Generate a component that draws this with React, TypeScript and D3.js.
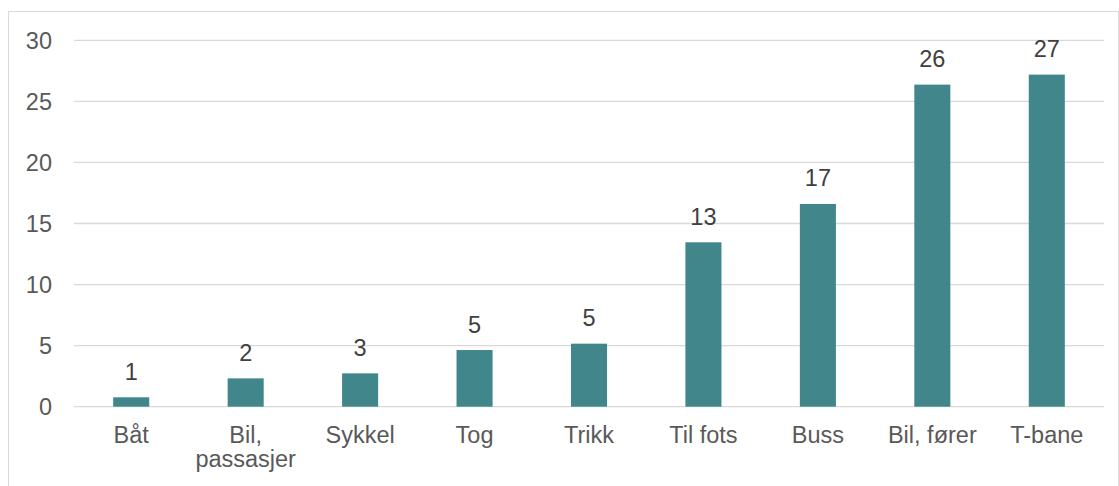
import React from "react";
import * as d3 from "d3";

const categories = ["Båt", "Bil, passasjer", "Sykkel", "Tog", "Trikk", "Til fots", "Buss", "Bil, fører", "T-bane"];
const values = [0.77, 2.32, 2.73, 4.64, 5.16, 13.46, 16.6, 26.37, 27.19];
const yTicks = [0, 5, 10, 15, 20, 25, 30];

const W = 1119, H = 486;
const left = 74, right = 1104, top = 40.3, bottom = 406.7;

function splitLabel(s: string): string[] {
  if (s === "Bil, passasjer") return ["Bil,", "passasjer"];
  return [s];
}

export default function App() {
  const x = d3.scaleBand<string>().domain(categories).range([left, right]).paddingInner(0.685).paddingOuter(0.3425);
  const y = d3.scaleLinear().domain([0, 30]).range([bottom, top]);
  const font = "'Liberation Sans', Arial, sans-serif";
  const fs = 23.5;
  return (
    <svg width={W} height={H} style={{ position: "absolute", left: 0, top: 0 }}>
      <rect x={0} y={0} width={W} height={H} fill="#fff" />
      <rect x={8.5} y={11.5} width={1110} height={490} fill="none" stroke="#d9d9d9" strokeWidth={1} />
      {yTicks.map((t) => (
        <g key={t}>
          <line x1={left} x2={right} y1={y(t)} y2={y(t)} stroke="#d9d9d9" strokeWidth={1.3} />
          <text x={52} y={y(t) + 8.5} textAnchor="end" fontFamily={font} fontSize={fs} fill="#595959">{t}</text>
        </g>
      ))}
      {categories.map((c, i) => {
        const bx = x(c)!;
        const bw = x.bandwidth();
        return (
          <g key={c}>
            <rect x={bx} y={y(values[i])} width={bw} height={y(0) - y(values[i])} fill="#40868A" />
            <text x={bx + bw / 2} y={y(values[i]) - 17.5} textAnchor="middle" fontFamily={font} fontSize={fs} fill="#404040">
              {Math.round(values[i])}
            </text>
            {splitLabel(c).map((line, j) => (
              <text key={j} x={bx + bw / 2} y={443 + j * 24} textAnchor="middle" fontFamily={font} fontSize={fs} fill="#595959">
                {line}
              </text>
            ))}
          </g>
        );
      })}
    </svg>
  );
}
